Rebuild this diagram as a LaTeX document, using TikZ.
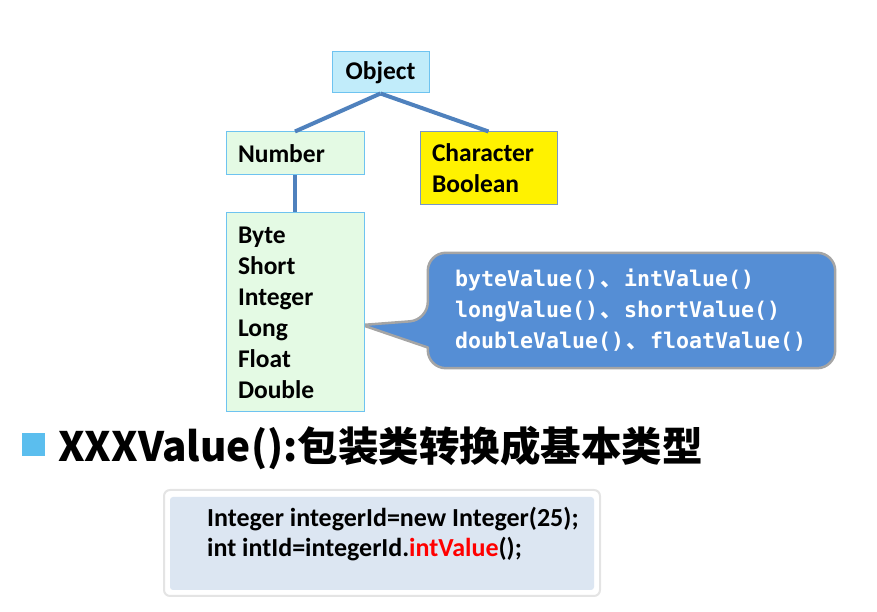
\documentclass[tikz,border=0pt]{standalone}
\usepackage{fontspec}
\setmainfont{Carlito}
\newfontfamily\cjk{Noto Sans CJK SC}
\newfontfamily\monob{DejaVu Sans Mono}
\usetikzlibrary{backgrounds}
\definecolor{objfill}{RGB}{193,236,250}
\definecolor{boxline}{RGB}{110,195,240}
\definecolor{numfill}{RGB}{228,250,228}
\definecolor{linkblue}{RGB}{79,129,189}
\definecolor{callfill}{RGB}{85,142,213}
\definecolor{callline}{RGB}{165,165,165}
\definecolor{bulletblue}{RGB}{91,190,238}
\definecolor{codefill}{RGB}{220,230,242}
\definecolor{codeline}{RGB}{228,228,228}
\definecolor{charline}{RGB}{120,150,200}
\newcommand{\dun}{\makebox[1.204em]{\cjk 、}}

\begin{document}
\begin{tikzpicture}[x=1pt, y=1pt,
	classbox/.style={shape=rectangle, draw=boxline, line width=1pt, font=\fontsize{25.5}{31}\selectfont\bfseries, inner sep=0pt},
	link/.style={draw=linkblue, line width=4pt},
	calltext/.style={font=\fontsize{21.6}{31}\selectfont\monob\bfseries, text=white, align=left, inner sep=0pt},
	bubble/.style={fill=callfill, draw=callline, line width=2.5pt, line join=round},
	codetext/.style={font=\fontsize{26}{30}\selectfont\bfseries, inner sep=0pt, anchor=base west}]
	\useasboundingbox (0,0) rectangle (877,612);
	% Class boxes:
	\node[classbox, fill=objfill, minimum width=97pt, minimum height=41pt] (obj) at (380.5,539.5){Object};
	\node[classbox, fill=numfill, minimum width=138pt, minimum height=43pt, text width=114pt, align=left] (num) at (295,458.5){Number};
	\node[classbox, fill=yellow, draw=charline, minimum width=137pt, minimum height=73pt, text width=113pt, align=left] (charbool) at (488.5,443.5){Character\\Boolean};
	\node[classbox, fill=numfill, minimum width=138pt, minimum height=199pt, text width=114pt, align=left] (numtypes) at (295,299.5){Byte\\Short\\Integer\\Long\\Float\\Double};
	\draw[link] (obj.south) -- (num.north);
	\draw[link] (obj.south) -- (charbool.north);
	\draw[link] (num.south) -- (numtypes.north);
	% Callout:
	\node[calltext, minimum width=407pt, minimum height=115pt, text width=353pt] (calls) at (631.5,301.5){byteValue()\dun intValue()\\longValue()\dun shortValue()\\doubleValue()\dun floatValue()};
	\coordinate (tip) at (362,287);
	\begin{scope}[on background layer]
		\draw[bubble] ([yshift=-37pt]calls.west) [rounded corners=18pt] -- (calls.south west) -- (calls.south east) -- (calls.north east) -- (calls.north west) -- ([yshift=-9.5pt]calls.west) [sharp corners] -- (tip) -- cycle;
	\end{scope}
	% Heading:
	\node[fill=bulletblue, minimum size=23pt, inner sep=0pt] (bullet) at (33.5,167.5){};
	\node[anchor=base west, inner sep=0pt, font=\fontsize{40.5}{46}\selectfont\cjk\bfseries] (heading) at (58,150){XXXValue():包装类转换成基本类型};
	% Code sample:
	\node[draw=codeline, line width=2pt, fill=white, rounded corners=6pt, minimum width=436pt, minimum height=106pt] (codeout) at (382,69){};
	\node[fill=codefill, rounded corners=3pt, minimum width=424pt, minimum height=93pt] (codein) at (382,68.5){};
	\node[codetext] (codea) at (207,85){Integer integerId=new Integer(25);};
	\node[codetext] (codeb) at (207,55){int intId=integerId.\textcolor{red}{intValue}();};
\end{tikzpicture}
\end{document}
